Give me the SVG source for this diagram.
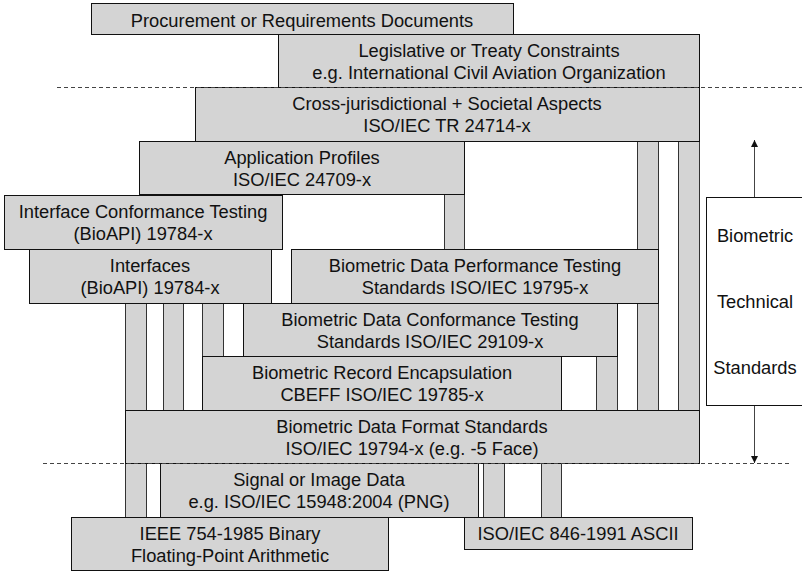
<svg xmlns="http://www.w3.org/2000/svg" width="802" height="571" viewBox="0 0 802 571">
<style>
.b{fill:#d4d4d4;stroke:#111;stroke-width:1}
.c{fill:#d4d4d4;stroke:#333;stroke-width:1}
.w{fill:#fff;stroke:#111;stroke-width:1}
.t{font-family:"Liberation Sans",Arial,sans-serif;font-size:18.3px;fill:#111;text-anchor:middle}
.d{stroke:#444;stroke-width:1;stroke-dasharray:4 3;fill:none}
.a{stroke:#444;stroke-width:1;fill:none}
</style>
<defs>
<marker id="ah" viewBox="0 0 8 8" refX="8" refY="4" markerWidth="7" markerHeight="7" markerUnits="userSpaceOnUse" orient="auto">
<path d="M0,0 L8,4 L0,8 z" fill="#111"/>
</marker>
</defs>
<g id="columns">
<rect class="c" x="444.5" y="194.5" width="20" height="55"/>
<rect class="c" x="637.5" y="141.5" width="21" height="269"/>
<rect class="c" x="678.5" y="141.5" width="21" height="269"/>
<rect class="c" x="125.5" y="303.5" width="21" height="214"/>
<rect class="c" x="163.5" y="303.5" width="20" height="107"/>
<rect class="c" x="202.5" y="303.5" width="21" height="53"/>
<rect class="c" x="596.5" y="356.5" width="21" height="54"/>
<rect class="c" x="483.5" y="463.5" width="21" height="54"/>
<rect class="c" x="541.5" y="463.5" width="20" height="54"/>
</g>
<g id="procurement"><rect class="b" x="91.5" y="3.5" width="422" height="31"/><text class="t" x="302" y="27">Procurement or Requirements Documents</text></g>
<g id="legislative"><rect class="b" x="278.5" y="34.5" width="421" height="53"/><text class="t" x="489" y="57">Legislative or Treaty Constraints</text><text class="t" x="489" y="79">e.g. International Civil Aviation Organization</text></g>
<g id="cross"><rect class="b" x="195.5" y="87.5" width="504" height="54"/><text class="t" x="447" y="110">Cross-jurisdictional + Societal Aspects</text><text class="t" x="447" y="132">ISO/IEC TR 24714-x</text></g>
<g id="appprofiles"><rect class="b" x="139.5" y="141.5" width="325" height="53"/><text class="t" x="302" y="164">Application Profiles</text><text class="t" x="302" y="186">ISO/IEC 24709-x</text></g>
<g id="ifconf"><rect class="b" x="4.5" y="195.5" width="278" height="54"/><text class="t" x="143" y="218">Interface Conformance Testing</text><text class="t" x="143" y="240">(BioAPI) 19784-x</text></g>
<g id="interfaces"><rect class="b" x="29.5" y="249.5" width="242" height="54"/><text class="t" x="150" y="272">Interfaces</text><text class="t" x="150" y="294">(BioAPI) 19784-x</text></g>
<g id="perf"><rect class="b" x="291.5" y="249.5" width="367" height="54"/><text class="t" x="475" y="272">Biometric Data Performance Testing</text><text class="t" x="475" y="294">Standards ISO/IEC 19795-x</text></g>
<g id="conf"><rect class="b" x="243.5" y="303.5" width="374" height="53"/><text class="t" x="430" y="326">Biometric Data Conformance Testing</text><text class="t" x="430" y="348">Standards ISO/IEC 29109-x</text></g>
<g id="record"><rect class="b" x="202.5" y="356.5" width="359" height="54"/><text class="t" x="382" y="379">Biometric Record Encapsulation</text><text class="t" x="382" y="401">CBEFF ISO/IEC 19785-x</text></g>
<g id="format"><rect class="b" x="125.5" y="410.5" width="574" height="53"/><text class="t" x="412" y="433">Biometric Data Format Standards</text><text class="t" x="412" y="455">ISO/IEC 19794-x (e.g. -5 Face)</text></g>
<g id="signal"><rect class="b" x="160.5" y="463.5" width="318" height="54"/><text class="t" x="319" y="486">Signal or Image Data</text><text class="t" x="319" y="508">e.g. ISO/IEC 15948:2004 (PNG)</text></g>
<g id="ieee"><rect class="b" x="71.5" y="517.5" width="317" height="53"/><text class="t" x="230" y="540">IEEE 754-1985 Binary</text><text class="t" x="230" y="562">Floating-Point Arithmetic</text></g>
<g id="ascii"><rect class="b" x="464.5" y="517.5" width="228" height="32"/><text class="t" x="578" y="540">ISO/IEC 846-1991 ASCII</text></g>
<g id="bts"><rect class="w" x="706.5" y="197.5" width="100" height="208"/><text class="t" x="755" y="242">Biometric</text><text class="t" x="755" y="308">Technical</text><text class="t" x="755" y="374">Standards</text></g>
<g id="connectors">
<line class="d" x1="57" y1="87.5" x2="802" y2="87.5"/>
<line class="d" x1="43" y1="463.5" x2="791" y2="463.5"/>
<line class="a" x1="754.5" y1="197" x2="754.5" y2="140" marker-end="url(#ah)"/>
<line class="a" x1="754.5" y1="406" x2="754.5" y2="463" marker-end="url(#ah)"/>
</g>
</svg>
